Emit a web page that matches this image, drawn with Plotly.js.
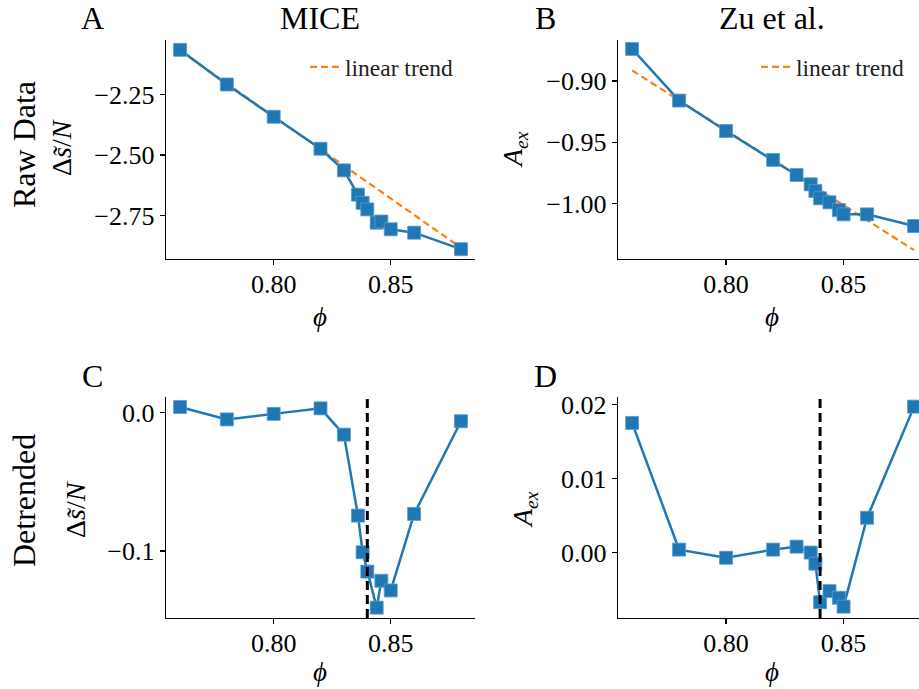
<!DOCTYPE html>
<html>
<head>
<meta charset="utf-8">
<script src="https://cdn.plot.ly/plotly-3.0.1.min.js"></script>
<style>
  html, body { margin: 0; padding: 0; background: #ffffff; }
  #chart { width: 919px; height: 689px; }
</style>
</head>
<body>
<div id="chart"></div>
<script>
// ---------------- data ----------------
const phiMice   = [0.76, 0.78, 0.80, 0.82, 0.83, 0.836, 0.838, 0.84, 0.844, 0.846, 0.85, 0.86, 0.88];
const rawMice   = [-2.066, -2.209, -2.342, -2.474, -2.563, -2.663, -2.697, -2.724, -2.779, -2.774, -2.806, -2.820, -2.888];
const detMice   = [0.004, -0.005, -0.001, 0.003, -0.016, -0.0745, -0.101, -0.115, -0.141, -0.1216, -0.1286, -0.0733, -0.0063];
const trendPhi  = [0.76, 0.88];
const trendMice = [-2.070, -2.882];

const phiZu     = [0.76, 0.78, 0.80, 0.82, 0.83, 0.836, 0.838, 0.84, 0.844, 0.848, 0.85, 0.86, 0.88];
const rawZu     = [-0.8739, -0.9160, -0.9408, -0.9644, -0.9767, -0.9843, -0.9897, -0.9957, -0.9990, -1.0053, -1.0088, -1.0088, -1.0183];
const detZu     = [0.0175, 0.0004, -0.0007, 0.0004, 0.0008, 0.0000, -0.0015, -0.0067, -0.0052, -0.0061, -0.0073, 0.0047, 0.0197];
const trendZu   = [-0.8914, -1.0380];

const transitionPhi = 0.84;

const xTickVals = [0.80, 0.85];
const xTickText = ['0.80', '0.85'];
const yTickValsA = [-2.75, -2.50, -2.25];
const yTickTextA = ['\u22122.75', '\u22122.50', '\u22122.25'];
const yTickValsB = [-1.00, -0.95, -0.90];
const yTickTextB = ['\u22121.00', '\u22120.95', '\u22120.90'];
const yTickValsC = [-0.1, 0.0];
const yTickTextC = ['\u22120.1', '0.0'];
const yTickValsD = [0.00, 0.01, 0.02];
const yTickTextD = ['0.00', '0.01', '0.02'];

// ---------------- styling ----------------
const W = 919, H = 689;
const FONT = 'Liberation Serif';
const BLUE = '#1f77b4', ORANGE = '#ff7f0e';
const px = v => v / W;
const py = v => 1 - v / H;

function dataTrace(x, y, xa, ya) {
  return {
    x: x, y: y, xaxis: xa, yaxis: ya, type: 'scatter', mode: 'lines+markers',
    line: {color: BLUE, width: 2.5},
    marker: {symbol: 'square', size: 13, color: BLUE, line: {width: 0.8, color: '#5a9bd0'}},
    showlegend: false, hoverinfo: 'skip'
  };
}
function trendTrace(x, y, xa, ya, lg) {
  return {
    x: x, y: y, xaxis: xa, yaxis: ya, type: 'scatter', mode: 'lines',
    name: 'linear trend', legend: lg,
    line: {color: ORANGE, width: 2.2, dash: '7px,4px'},
    showlegend: true, hoverinfo: 'skip'
  };
}

const traces = [
  trendTrace(trendPhi, trendMice, 'x', 'y', 'legend'),
  dataTrace(phiMice, rawMice, 'x', 'y'),
  trendTrace(trendPhi, trendZu, 'x2', 'y2', 'legend2'),
  dataTrace(phiZu, rawZu, 'x2', 'y2'),
  dataTrace(phiMice, detMice, 'x3', 'y3'),
  dataTrace(phiZu, detZu, 'x4', 'y4')
];

function axis(extra) {
  return Object.assign({
    showline: true, linecolor: '#000', linewidth: 1.3,
    ticks: 'outside', ticklen: 5, tickwidth: 1.3, tickcolor: '#000',
    showgrid: false, zeroline: false,
    tickfont: {family: FONT, size: 26, color: '#000'},
    tickmode: 'array', fixedrange: true
  }, extra);
}

const domXL = [px(166), px(475)];
const domXR = [px(618), 1];
const domYT = [py(259), py(40)];
const domYB = [py(618), py(397)];
const xRangeL = [0.754, 0.886];
const xRangeR = [0.754, 0.8821];
const XSO = -4;

const layout = {
  width: W, height: H,
  margin: {l: 0, r: 0, t: 0, b: 0},
  paper_bgcolor: '#fff', plot_bgcolor: '#fff',
  font: {family: FONT, color: '#000', size: 26},
  xaxis:  axis({domain: domXL, range: xRangeL, anchor: 'y',  tickvals: xTickVals, ticktext: xTickText, ticklabelstandoff: XSO}),
  yaxis:  axis({domain: domYT, range: [-2.9285, -2.0255], anchor: 'x', tickvals: yTickValsA, ticktext: yTickTextA}),
  xaxis2: axis({domain: domXR, range: xRangeR, anchor: 'y2', tickvals: xTickVals, ticktext: xTickText, ticklabelstandoff: XSO}),
  yaxis2: axis({domain: domYT, range: [-1.0452, -0.8666], anchor: 'x2', tickvals: yTickValsB, ticktext: yTickTextB}),
  xaxis3: axis({domain: domXL, range: xRangeL, anchor: 'y3', tickvals: xTickVals, ticktext: xTickText, ticklabelstandoff: XSO}),
  yaxis3: axis({domain: domYB, range: [-0.1485, 0.0112], anchor: 'x3', tickvals: yTickValsC, ticktext: yTickTextC}),
  xaxis4: axis({domain: domXR, range: xRangeR, anchor: 'y4', tickvals: xTickVals, ticktext: xTickText, ticklabelstandoff: XSO}),
  yaxis4: axis({domain: domYB, range: [-0.00883, 0.0210], anchor: 'x4', tickvals: yTickValsD, ticktext: yTickTextD}),
  legend: {x: px(305), y: py(67), xanchor: 'left', yanchor: 'middle', bgcolor: 'rgba(0,0,0,0)',
           font: {family: FONT, size: 23.5, color: '#222'}},
  legend2: {x: px(756), y: py(67), xanchor: 'left', yanchor: 'middle', bgcolor: 'rgba(0,0,0,0)',
           font: {family: FONT, size: 23.5, color: '#222'}},
  shapes: [
    {type: 'line', xref: 'x3', yref: 'y3 domain', x0: transitionPhi, x1: transitionPhi, y0: 0, y1: 1,
     line: {color: '#000', width: 3, dash: '9px,5px'}},
    {type: 'line', xref: 'x4', yref: 'y4 domain', x0: transitionPhi, x1: transitionPhi, y0: 0, y1: 1,
     line: {color: '#000', width: 3, dash: '9px,5px'}}
  ],
  annotations: []
};

function ann(text, x, y, size, angle) {
  layout.annotations.push({
    text: text, xref: 'paper', yref: 'paper', x: px(x), y: py(y),
    xanchor: 'center', yanchor: 'middle', showarrow: false, textangle: angle || 0,
    font: {family: FONT, size: size, color: '#000'}
  });
}
const TITLE = 32, LAB = 28;
ann('A', 92, 18, TITLE);
ann('MICE', 320, 18, TITLE);
ann('B', 545, 18, TITLE);
ann('Zu et al.', 772, 18, TITLE);
ann('C', 92, 376, TITLE);
ann('D', 545, 376, TITLE);
ann('Raw Data', 24, 145, TITLE, -90);
ann('Detrended', 24, 501, TITLE, -90);
ann('\u0394<i>s\u0303</i>/<i>N</i>', 61, 147, LAB, -90);
ann('\u0394<i>s\u0303</i>/<i>N</i>', 76, 510, LAB, -90);
ann('<i>A</i><sub><i>ex</i></sub>', 515, 150, LAB, -90);
ann('<i>A</i><sub><i>ex</i></sub>', 525, 510, LAB, -90);
ann('<i>\u03d5</i>', 320, 317, 27);
ann('<i>\u03d5</i>', 772, 317, 27);
ann('<i>\u03d5</i>', 320, 672, 27);
ann('<i>\u03d5</i>', 772, 672, 27);

Plotly.newPlot('chart', traces, layout, {staticPlot: true, displayModeBar: false});
</script>
</body>
</html>
